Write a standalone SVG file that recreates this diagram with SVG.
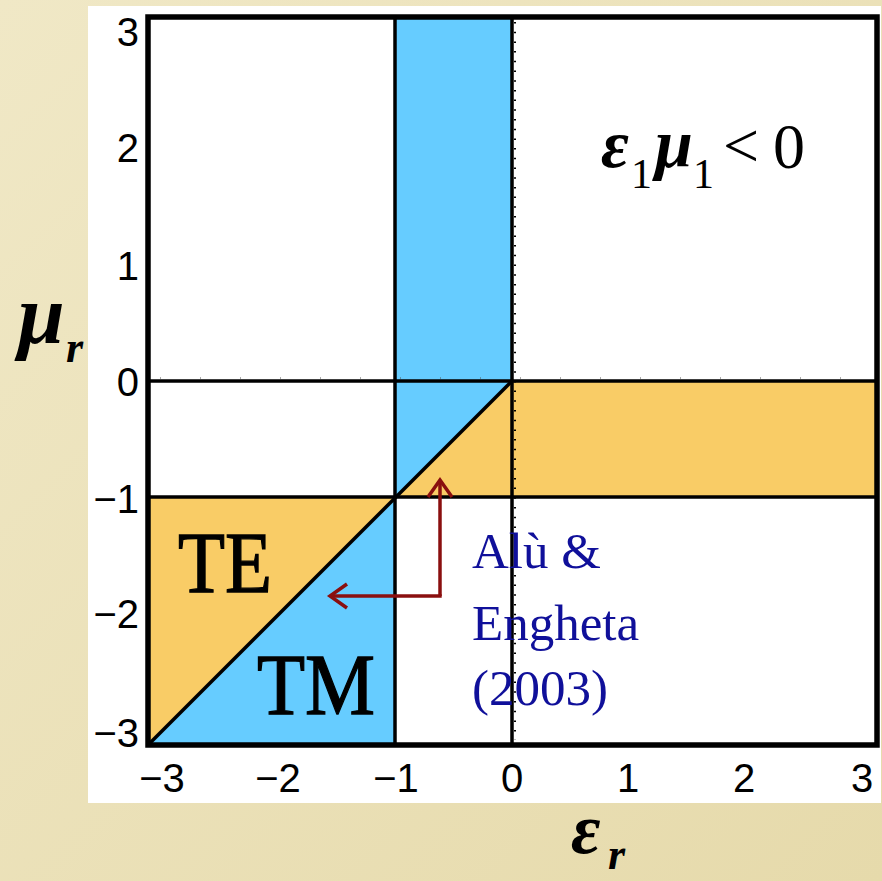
<svg xmlns="http://www.w3.org/2000/svg" width="882" height="881" viewBox="0 0 882 881">
  <defs>
    <linearGradient id="bg" x1="0" y1="0" x2="1" y2="1">
      <stop offset="0" stop-color="#F0E8C6"/>
      <stop offset="1" stop-color="#E6DAAB"/>
    </linearGradient>
    <marker id="chev" viewBox="-20 -16 40 32" refX="9" refY="0" markerWidth="40" markerHeight="32" markerUnits="userSpaceOnUse" orient="auto">
      <path d="M-8,-12 L9,0 L-8,12" fill="none" stroke="#8A0F0F" stroke-width="3.5"/>
    </marker>
    <style>
      .tick { font-family: "Liberation Sans", Arial, sans-serif; font-size: 40px; fill: #000; }
      .ylab { text-anchor: end; }
      .xlab { text-anchor: middle; }
      .math { font-family: "Liberation Serif", "Times New Roman", serif; fill: #000; }
      .big { font-family: "Liberation Serif", "Times New Roman", serif; font-size: 86px; fill: #000; stroke: #000; stroke-width: 1.3; }
      .cite { font-family: "Liberation Serif", "Times New Roman", serif; font-size: 51px; fill: #10109A; }
      .grid { stroke: #000; stroke-width: 3.5; fill: none; }
      .blue { fill: #66CCFF; }
      .orange { fill: #F9CC66; }
    </style>
  </defs>

  <rect x="0" y="0" width="882" height="881" fill="url(#bg)"/>
  <rect x="88" y="6" width="793" height="797" fill="#FFFFFF"/>

  <g id="regions">
    <rect class="blue" x="395" y="17" width="117" height="364"/>
    <polygon class="blue" points="395,381 512,381 395,497"/>
    <polygon class="orange" points="512,381 512,497 395,497"/>
    <rect class="orange" x="512" y="381" width="365" height="116"/>
    <polygon class="orange" points="148,497 395,497 148,745"/>
    <polygon class="blue" points="395,497 395,745 148,745"/>
  </g>

  <g id="connectors">
    <line class="grid" x1="148" y1="381" x2="877" y2="381"/>
    <line class="grid" x1="148" y1="497" x2="877" y2="497"/>
    <line class="grid" x1="395" y1="17" x2="395" y2="745"/>
    <line class="grid" x1="512" y1="17" x2="512" y2="745"/>
    <line class="grid" x1="148" y1="745" x2="512" y2="381"/>
    <line x1="515" y1="22" x2="515" y2="740" stroke="#000" stroke-width="2" stroke-dasharray="1.5 8.2"/>
    <line x1="160" y1="378" x2="870" y2="378" stroke="#555" stroke-width="1" stroke-dasharray="1 39"/>
    <rect x="148" y="17" width="729" height="728" fill="none" stroke="#000" stroke-width="5.5"/>
    <path d="M440,596 L440,480" fill="none" stroke="#8A0F0F" stroke-width="3.5" marker-end="url(#chev)"/>
    <path d="M441.7,596 L330,596" fill="none" stroke="#8A0F0F" stroke-width="3.5" marker-end="url(#chev)"/>
  </g>

  <g id="y-axis">
    <text class="tick ylab" x="139" y="46">3</text>
    <text class="tick ylab" x="139" y="162">2</text>
    <text class="tick ylab" x="139" y="280">1</text>
    <text class="tick ylab" x="139" y="396">0</text>
    <text class="tick ylab" x="139" y="513">−1</text>
    <text class="tick ylab" x="139" y="628">−2</text>
    <text class="tick ylab" x="139" y="747">−3</text>
    <text class="math" x="18" y="343" font-size="84" font-weight="bold" font-style="italic">μ</text>
    <text class="math" x="66" y="362" font-size="44" font-weight="bold" font-style="italic">r</text>
  </g>

  <g id="x-axis">
    <text class="tick xlab" x="162" y="792">−3</text>
    <text class="tick xlab" x="278" y="792">−2</text>
    <text class="tick xlab" x="396" y="792">−1</text>
    <text class="tick xlab" x="512" y="792">0</text>
    <text class="tick xlab" x="628" y="792">1</text>
    <text class="tick xlab" x="744" y="792">2</text>
    <text class="tick xlab" x="862" y="792">3</text>
    <text class="math" x="571" y="853" font-size="72" font-weight="bold" font-style="italic">ε</text>
    <text class="math" x="608" y="869" font-size="44" font-weight="bold" font-style="italic">r</text>
  </g>

  <g id="condition">
    <text class="math" x="601" y="167" font-size="68" font-style="italic" font-weight="bold">ε</text>
    <text class="math" x="631" y="188" font-size="42">1</text>
    <text class="math" x="655" y="167" font-size="68" font-style="italic" font-weight="bold">μ</text>
    <text class="math" x="693" y="188" font-size="42">1</text>
    <text class="math" x="723" y="167" font-size="64">&lt;</text>
    <text class="math" x="773" y="168" font-size="64">0</text>
  </g>

  <g id="TE">
    <text class="big" x="178" y="592" textLength="94" lengthAdjust="spacingAndGlyphs">TE</text>
  </g>
  <g id="TM">
    <text class="big" x="257" y="714" textLength="118" lengthAdjust="spacingAndGlyphs">TM</text>
  </g>

  <g id="citation">
    <text class="cite" x="472" y="568">Alù &amp;</text>
    <text class="cite" x="472" y="640">Engheta</text>
    <text class="cite" x="472" y="705">(2003)</text>
  </g>
</svg>
